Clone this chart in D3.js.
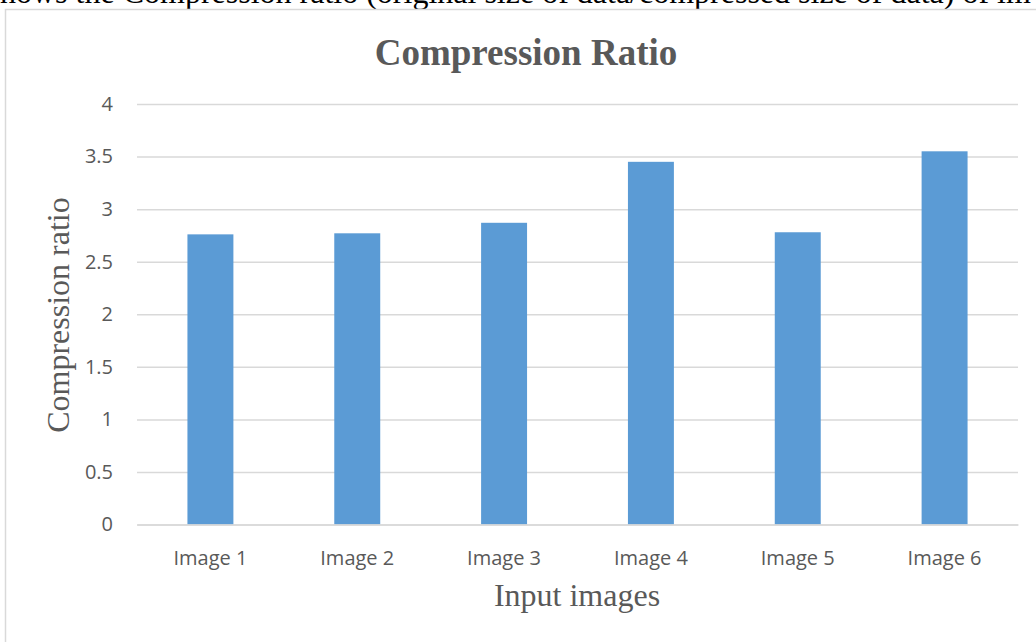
<!DOCTYPE html>
<html>
<head>
<meta charset="utf-8">
<script src="https://cdn.jsdelivr.net/npm/d3@7"></script>
<style>
  html, body { margin: 0; padding: 0; background: #fff; overflow: hidden; }
  svg { display: block; }
</style>
</head>
<body>
<svg id="chart" width="1036" height="642"></svg>
<script>
const categories = ["Image 1", "Image 2", "Image 3", "Image 4", "Image 5", "Image 6"];
const ratios = [2.76, 2.77, 2.87, 3.45, 2.78, 3.55];
const yTicks = [0, 0.5, 1, 1.5, 2, 2.5, 3, 3.5, 4];
const titleText = "Compression Ratio";
const yTitle = "Compression ratio";
const xTitle = "Input images";
const captionText = "hows the Compression ratio (original size of data/compressed size of data) of im";

const svg = d3.select("#chart");
const plot = { left: 137, right: 1018, top: 104, bottom: 524.5 };

// caption fragment from the document above the chart (cut at the top edge, as in the reference)
svg.append("text")
  .attr("x", 0).attr("y", 2.5)
  .attr("font-family", "Liberation Serif, Times New Roman, serif")
  .attr("font-size", 32)
  .attr("fill", "#000")
  .text(captionText);

// chart frame
svg.append("rect")
  .attr("x", 5.5).attr("y", 9.5)
  .attr("width", 1200).attr("height", 1000)
  .attr("fill", "none")
  .attr("stroke", "#d9d9d9")
  .attr("stroke-width", 1.5);

const x = d3.scaleBand().domain(categories)
  .range([plot.left, plot.right])
  .paddingInner(0.687).paddingOuter(0.3435);
const y = d3.scaleLinear().domain([0, 4]).range([plot.bottom, plot.top]);

// gridlines + y tick labels
const yAxis = d3.axisLeft(y).tickValues(yTicks)
  .tickSize(-(plot.right - plot.left)).tickPadding(24)
  .tickFormat(d3.format("~g"));
const gy = svg.append("g").attr("transform", `translate(${plot.left},0)`).call(yAxis);
gy.select(".domain").remove();
gy.selectAll(".tick line").attr("stroke", "#d9d9d9").attr("stroke-width", 1.5);
gy.selectAll(".tick text")
  .attr("font-family", "Open Sans, sans-serif")
  .attr("font-size", 20)
  .attr("fill", "#595959");

// bars
svg.append("g").selectAll("rect").data(categories).join("rect")
  .attr("x", d => x(d))
  .attr("width", x.bandwidth())
  .attr("y", (d, i) => y(ratios[i]))
  .attr("height", (d, i) => y(0) - y(ratios[i]))
  .attr("fill", "#5b9bd5");

// x axis
const xAxis = d3.axisBottom(x).tickSize(0).tickPadding(26);
const gx = svg.append("g").attr("transform", `translate(0,${plot.bottom})`).call(xAxis);
gx.select(".domain").attr("stroke", "#d9d9d9").attr("stroke-width", 1.5);
gx.selectAll(".tick text")
  .attr("font-family", "Open Sans, sans-serif")
  .attr("font-size", 20)
  .attr("fill", "#595959");

// title
svg.append("text")
  .attr("x", 526).attr("y", 65)
  .attr("text-anchor", "middle")
  .attr("font-family", "Liberation Serif, Times New Roman, serif")
  .attr("font-weight", "bold")
  .attr("font-size", 37)
  .attr("fill", "#595959")
  .text(titleText);

// axis titles
svg.append("text")
  .attr("transform", "translate(69,315) rotate(-90)")
  .attr("text-anchor", "middle")
  .attr("font-family", "Liberation Serif, Times New Roman, serif")
  .attr("font-size", 32)
  .attr("fill", "#595959")
  .text(yTitle);

svg.append("text")
  .attr("x", 577).attr("y", 606)
  .attr("text-anchor", "middle")
  .attr("font-family", "Liberation Serif, Times New Roman, serif")
  .attr("font-size", 32)
  .attr("fill", "#595959")
  .text(xTitle);
</script>
</body>
</html>
